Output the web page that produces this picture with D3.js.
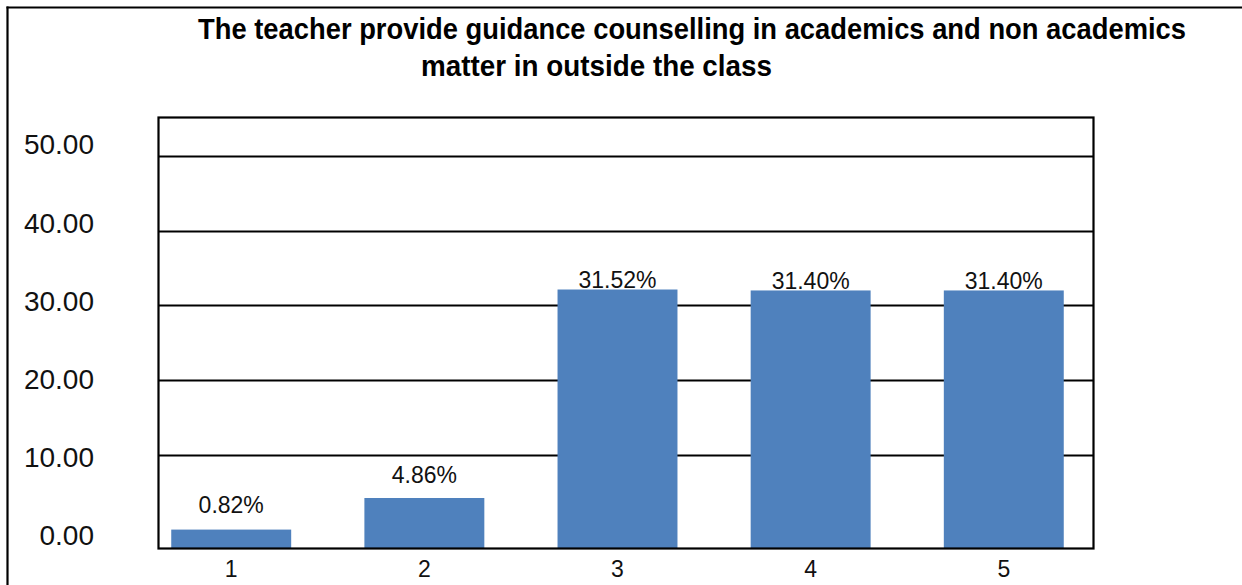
<!DOCTYPE html>
<html>
<head>
<meta charset="utf-8">
<script src="https://cdn.jsdelivr.net/npm/d3@7/dist/d3.min.js"></script>
<style>
  html, body { margin: 0; padding: 0; background: #fff; }
  svg { display: block; font-family: "Liberation Sans", Arial, sans-serif; }
</style>
</head>
<body>
<svg id="chart" width="1242" height="585"></svg>
<script>
// ---- data ----
const categories = ["1", "2", "3", "4", "5"];
const values = [0.82, 4.86, 31.52, 31.40, 31.40];
const valueLabels = ["0.82%", "4.86%", "31.52%", "31.40%", "31.40%"];
const yTicks = [0, 10, 20, 30, 40, 50];
const gridTicks = [10, 20, 30, 40, 50];
const titleLines = [
  "The teacher provide guidance counselling in academics and non academics",
  "matter in outside the class"
];

// ---- layout ----
const W = 1242, H = 585;
const plot = { left: 158.5, top: 117.5, right: 1093.5, bottom: 548.5 };
const svg = d3.select("#chart");
svg.append("rect").attr("width", W).attr("height", H).attr("fill", "#fff");

// outer frame (top & left edges only, as in the cropped original)
svg.append("line").attr("x1", 6.5).attr("x2", W).attr("y1", 7.5).attr("y2", 7.5)
  .attr("stroke", "#000").attr("stroke-width", 2.2);
svg.append("line").attr("x1", 7.5).attr("x2", 7.5).attr("y1", 6.5).attr("y2", H)
  .attr("stroke", "#000").attr("stroke-width", 2.2);

// ---- scales ----
const x = d3.scaleBand().domain(categories)
  .range([plot.left, plot.right])
  .paddingInner(0.379).paddingOuter(0.11).align(0.3);
const y = d3.scaleLinear().domain([0, 50]).range([536, 145]);        // values / tick labels
const yGrid = d3.scaleLinear().domain([0, 50]).range([530, 155.7]);  // grid lines
const yLab = d3.scaleLinear().domain([0, 50]).range([519, 152.5]);   // data label baselines

// ---- grid lines ----
svg.append("g").selectAll("line").data(gridTicks).join("line")
  .attr("x1", plot.left).attr("x2", plot.right)
  .attr("y1", d => Math.round(yGrid(d)) + 0.5).attr("y2", d => Math.round(yGrid(d)) + 0.5)
  .attr("stroke", "#000").attr("stroke-width", 2);

// ---- bars ----
svg.append("g").selectAll("rect").data(values).join("rect")
  .attr("x", (d, i) => x(categories[i]))
  .attr("width", x.bandwidth())
  .attr("y", d => y(d))
  .attr("height", d => plot.bottom - y(d))
  .attr("fill", "#4f81bd");

// ---- plot border ----
svg.append("rect")
  .attr("x", plot.left).attr("y", plot.top)
  .attr("width", plot.right - plot.left).attr("height", plot.bottom - plot.top)
  .attr("fill", "none").attr("stroke", "#000").attr("stroke-width", 2.2);

// ---- y axis labels ----
const yAxis = d3.axisLeft(y).tickValues(yTicks).tickSize(0).tickPadding(0)
  .tickFormat(d3.format(".2f"));
const gy = svg.append("g").attr("transform", "translate(94,0)").call(yAxis);
gy.select(".domain").remove();
gy.selectAll("text").attr("font-size", 28).attr("fill", "#111")
  .attr("font-family", "'Liberation Sans', Arial, sans-serif");

// ---- x axis labels ----
const xAxis = d3.axisBottom(x).tickSize(0).tickPadding(0);
const gx = svg.append("g").attr("transform", "translate(0,560)").call(xAxis);
gx.select(".domain").remove();
gx.selectAll("text").attr("font-size", 23).attr("fill", "#111")
  .attr("font-family", "'Liberation Sans', Arial, sans-serif")
  .attr("dy", "0.72em");

// ---- data labels ----
svg.append("g").selectAll("text").data(values).join("text")
  .attr("x", (d, i) => x(categories[i]) + x.bandwidth() / 2)
  .attr("y", d => yLab(d))
  .attr("text-anchor", "middle")
  .attr("font-size", 23).attr("fill", "#111")
  .text((d, i) => valueLabels[i]);

// ---- title ----
const titlePos = [
  { x: 198, y: 39, len: 988 },
  { x: 421, y: 76, len: 351 }
];
svg.append("g").selectAll("text").data(titleLines).join("text")
  .attr("transform", (d, i) => `translate(${titlePos[i].x},${titlePos[i].y}) scale(1,1.12)`)
  .attr("x", 0).attr("y", 0)
  .attr("textLength", (d, i) => titlePos[i].len)
  .attr("lengthAdjust", "spacingAndGlyphs")
  .attr("font-size", 27).attr("font-weight", "bold").attr("fill", "#000")
  .text(d => d);
</script>
</body>
</html>
